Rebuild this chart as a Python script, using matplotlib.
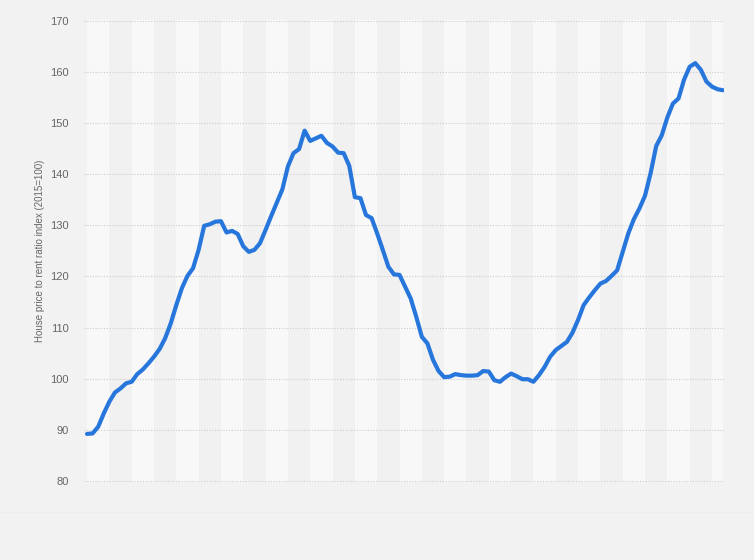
import matplotlib
matplotlib.use("Agg")
import matplotlib.pyplot as plt

# quarterly index values (115 quarters)
ratio_index = [
    89.2, 89.3, 90.6, 93.2, 95.5, 97.3, 98.1, 99.1, 99.4, 100.9,
    101.8, 103.0, 104.3, 105.8, 107.9, 110.8, 114.4, 117.7, 120.1, 121.6,
    125.2, 129.9, 130.2, 130.7, 130.8, 128.6, 128.9, 128.3, 125.9, 124.8,
    125.2, 126.5, 129.1, 131.8, 134.4, 137.0, 141.5, 144.1, 144.9, 148.5,
    146.5, 147.0, 147.5, 146.1, 145.4, 144.2, 144.1, 141.6, 135.5, 135.3,
    132.0, 131.4, 128.4, 125.2, 121.9, 120.4, 120.3, 118.0, 115.7, 112.1,
    108.2, 106.9, 103.7, 101.5, 100.3, 100.4, 100.9, 100.7, 100.6, 100.6,
    100.7, 101.5, 101.4, 99.7, 99.4, 100.3, 101.0, 100.5, 99.9, 99.9,
    99.4, 100.7, 102.3, 104.3, 105.6, 106.4, 107.2, 109.0, 111.5, 114.4,
    115.9, 117.3, 118.6, 119.1, 120.1, 121.2, 124.8, 128.4, 131.2, 133.3,
    135.8, 140.2, 145.5, 147.6, 151.1, 153.8, 154.8, 158.5, 161.0, 161.7,
    160.4, 158.1, 157.1, 156.6, 156.4,
]
y_ticks = [80, 90, 100, 110, 120, 130, 140, 150, 160, 170]
y_label = "House price to rent ratio index (2015=100)"

bg = "#f2f2f2"
fig = plt.figure(figsize=(7.54, 5.6), dpi=100, facecolor=bg)
ax = fig.add_axes([84 / 754, 1 - 481.5 / 560, (724 - 84) / 754, (481.5 - 20.2) / 560])
ax.set_facecolor(bg)

quarters = list(range(len(ratio_index)))
n = len(ratio_index) - 1

# alternating yearly bands
for start in range(0, n, 4):
    shade = "#f8f8f8" if (start // 4) % 2 == 0 else "#f1f1f1"
    ax.axvspan(start, min(start + 4, n), color=shade, lw=0, zorder=0)

ax.set_xlim(-0.54, n + 0.15)
ax.set_ylim(79.9, 170.1)
ax.set_yticks(y_ticks)
ax.yaxis.grid(True, color="#cdcdcd", linestyle=(0, (1, 1.5)), linewidth=0.8, zorder=1)
ax.set_xticks([])

ax.plot(quarters, ratio_index, color="#2776dc", linewidth=3.0,
        solid_joinstyle="round", solid_capstyle="round", zorder=3)

for side in ax.spines.values():
    side.set_visible(False)
ax.tick_params(axis="y", length=0, pad=11, labelsize=8, labelcolor="#666666")
for lbl in ax.get_yticklabels():
    lbl.set_fontfamily("Liberation Sans")

ax.set_ylabel(y_label, fontsize=7, color="#666666", family="Liberation Sans", labelpad=4)

# faint separator below the plot
fig.add_artist(plt.Line2D([0, 1], [1 - 512 / 560] * 2, color="#eeeeee", lw=0.8))

fig.savefig("out.png", dpi=100, facecolor=bg)
